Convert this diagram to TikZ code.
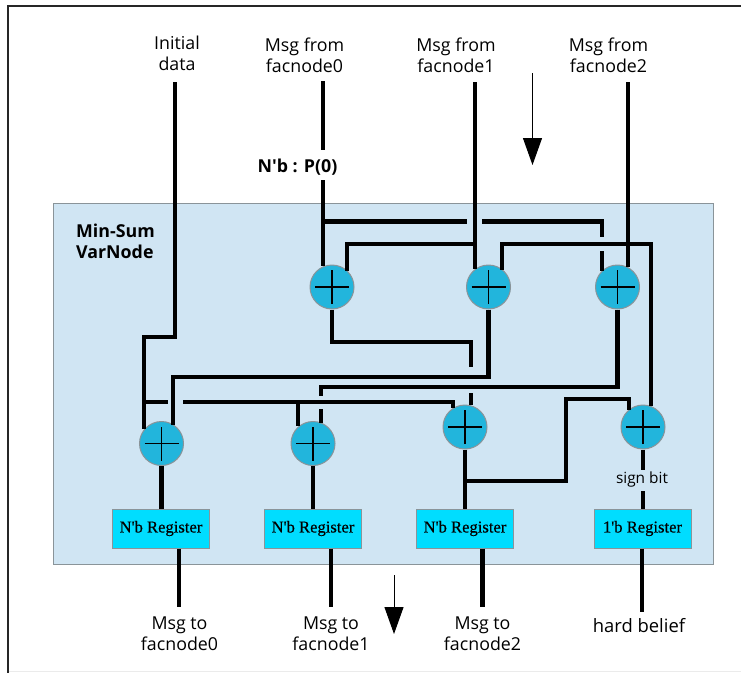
\documentclass[tikz,border=0pt]{standalone}
\usepackage{fontspec}
\setmainfont{Open Sans}
\newfontfamily\regfont[FakeBold=0.35]{Liberation Serif}
\usetikzlibrary{arrows.meta}
\definecolor{panelblue}{HTML}{D0E5F3}
\definecolor{adderblue}{HTML}{22B5DC}
\definecolor{regblue}{HTML}{00DDFF}
\definecolor{edgegray}{HTML}{8A9499}
\tikzset{
    wire/.style={line width=4.3pt, miter limit=10},
    flowarrow/.style={line width=1pt, -{Triangle[length=27pt, width=19pt]}},
    caption/.style={align=center, font=\fontsize{17.8}{21}\selectfont, inner sep=0pt},
    adder/.style={circle, draw=edgegray, fill=adderblue, line width=1pt, minimum size=44pt, inner sep=0pt,
        path picture={\draw[line width=1.5pt, black]
            ([xshift=-17pt]path picture bounding box.center) -- ([xshift=17pt]path picture bounding box.center)
            ([yshift=-17pt]path picture bounding box.center) -- ([yshift=17pt]path picture bounding box.center);}},
    register/.style={rectangle, draw=edgegray, fill=regblue, line width=1pt, minimum width=97pt, minimum height=39pt,
        inner sep=0pt, font=\regfont\fontsize{16.6}{18}\selectfont}
}

\begin{document}
\begin{tikzpicture}[x=1pt, y=-1pt]
    \useasboundingbox (0, 0) rectangle (741, 673);
    % Frame and panel:
    \coordinate (frameTR) at (741, 6);
    \coordinate (frameTL) at (8, 6);
    \coordinate (frameBL) at (8, 673);
    \coordinate (frameLow) at (741, 671.5);
    \draw[line width=1pt, black!8] (frameLow) -- (frameLow -| frameBL);
    \draw[line width=2.4pt, black!85] (frameTR) -- (frameTL) -- (frameBL);
    \node[draw=edgegray, fill=panelblue, line width=1pt, minimum width=660pt, minimum height=361pt, inner sep=0pt](panel) at (383, 383.5){};

    % Labels:
    \node[caption](initLabel) at (177, 53.5){Initial\\data};
    \node[caption](from0) at (304.5, 55.5){Msg from\\facnode0};
    \node[caption](from1) at (456, 55.5){Msg from\\facnode1};
    \node[caption](from2) at (608.5, 55.5){Msg from\\facnode2};
    \node[caption, font=\bfseries\fontsize{17.8}{20}\selectfont](width) at (297.5, 167){N\textquotesingle b : P(0)};
    \node[caption, align=left, anchor=north west, font=\bfseries\fontsize{17.8}{21}\selectfont](title) at (76, 224){Min-Sum\\VarNode};
    \node[caption, font=\fontsize{15.4}{17}\selectfont](sign) at (642, 479){sign bit};
    \node[caption](to0) at (179.5, 633.5){Msg to\\facnode0};
    \node[caption](to1) at (331, 633.5){Msg to\\facnode1};
    \node[caption](to2) at (482.5, 633.5){Msg to\\facnode2};
    \node[caption, font=\fontsize{18.4}{21}\selectfont](belief) at (639, 626){hard belief};

    % Adders and registers:
    \node[adder](add0) at (332, 287){};
    \node[adder](add1) at (488.5, 287){};
    \node[adder](add2) at (617.5, 287){};
    \node[adder](mix0) at (161.5, 443.5){};
    \node[adder](mix1) at (313, 443.5){};
    \node[adder](mix2) at (465, 427){};
    \node[adder](mix3) at (643, 427){};
    \node[register](reg0) at (161, 528.5){N\textquotesingle b Register};
    \node[register](reg1) at (313, 528.5){N\textquotesingle b Register};
    \node[register](reg2) at (465, 528.5){N\textquotesingle b Register};
    \node[register](reg3) at (642.5, 528.5){1\textquotesingle b Register};

    % Free wire ends:
    \coordinate (initTop) at (175, 82);
    \coordinate (from0Top) at (323, 81);
    \coordinate (from0Cut) at (323, 150);
    \coordinate (from0Join) at (323, 180);
    \coordinate (from1Top) at (475, 82);
    \coordinate (from2Top) at (628, 82);
    \coordinate (signTop) at (643, 470);
    \coordinate (signLow) at (643, 491);
    \coordinate (to0End) at (179, 607);
    \coordinate (to1End) at (331, 607);
    \coordinate (to2End) at (482.5, 607);
    \coordinate (beliefEnd) at (642, 612);

    % Inputs:
    \draw[wire] (initTop) -- (175, 337) -- (144, 337) -- (144, 337 |- mix0.140);
    \draw[wire] (from0Top) -- (from0Cut);
    \draw[wire] (from0Join) -- (from0Join |- add0.114);
    \draw[wire] (from1Top) -- (from1Top |- add1.126);
    \draw[wire] (from2Top) -- (from2Top |- add2.63);

    % Cross wires between the first adders:
    \draw[wire] (323, 221.5) -- (467, 221.5);
    \draw[wire] (482, 221.5) -- (602, 221.5) -- (602, 237);
    \draw[wire] (602, 251) -- (602, 251 |- add2.133);
    \draw[wire] (347, 244 |- add0.47) -- (347, 244) -- (475, 244);
    \draw[wire] (502, 244 |- add1.50) -- (502, 244) -- (651, 244) -- (651, 244 |- mix3.69);

    % Adder outputs:
    \draw[wire] (add0.south) -- (add0.south |- 0, 342) -- (471, 342) -- (471, 367);
    \draw[wire] (471, 393) -- (471, 393 |- mix2.74);
    \draw[wire] (add1.south) -- (add1.south |- 0, 377) -- (173, 377) -- (173, 377 |- mix0.57);
    \draw[wire] (add2.south) -- (add2.south |- 0, 387) -- (321, 387) -- (321, 396);
    \draw[wire] (321, 409) -- (321, 409 |- mix1.66);

    % Initial data feed:
    \draw[wire] (144, 402) -- (168, 402);
    \draw[wire] (183, 402) -- (453, 402) -- (453, 402 |- mix2.123);
    \draw[wire] (298, 402) -- (298, 402 |- mix1.130);

    % Outputs:
    \draw[wire] (mix0.south) -- (mix0.south |- reg0.north);
    \draw[wire] (mix1.south) -- (reg1.north);
    \draw[wire] (mix2.south) -- (reg2.north);
    \draw[wire] (465, 481) -- (566, 481) -- (566, 399) -- (629, 399) -- (629, 399 |- mix3.130);
    \draw[wire] (mix3.south) -- (signTop);
    \draw[wire] (signLow) -- (signLow |- reg3.north);
    \draw[wire] (reg0.south -| to0End) -- (to0End);
    \draw[wire] (reg1.south -| to1End) -- (to1End);
    \draw[wire] (reg2.south -| to2End) -- (to2End);
    \draw[wire] (reg3.south -| beliefEnd) -- (beliefEnd);

    % Flow direction:
    \coordinate (flowTopA) at (532.5, 73);
    \coordinate (flowTopB) at (532.5, 165);
    \coordinate (flowLowA) at (394, 575);
    \coordinate (flowLowB) at (394, 634);
    \draw[flowarrow] (flowTopA) -- (flowTopB);
    \draw[flowarrow] (flowLowA) -- (flowLowB);
\end{tikzpicture}
\end{document}
